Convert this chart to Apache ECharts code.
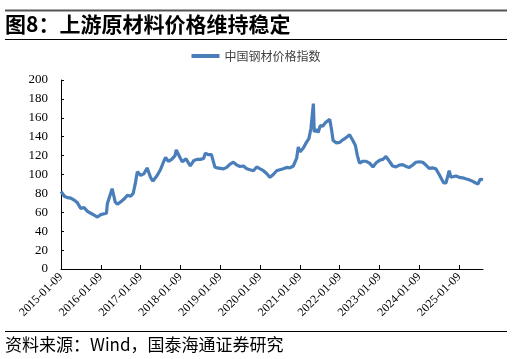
<!DOCTYPE html>
<html>
<head>
<meta charset="utf-8">
<script src="https://cdn.jsdelivr.net/npm/echarts@6/dist/echarts.min.js"></script>
<style>html,body{margin:0;padding:0;background:#fff}#c{width:512px;height:359px}</style>
</head>
<body>
<div id="c"></div>
<script>
const seriesName = '中国钢材价格指数';
const dates = [
'2015-01-09','2015-02-09','2015-03-09','2015-04-09','2015-05-09','2015-06-09','2015-07-09','2015-08-09','2015-09-09','2015-10-09','2015-11-09','2015-12-09',
'2016-01-09','2016-02-09','2016-03-01','2016-03-09','2016-03-25','2016-04-22','2016-05-20','2016-06-09','2016-07-09','2016-08-09','2016-09-09','2016-10-09','2016-11-01','2016-11-20','2016-12-09',
'2017-01-09','2017-02-09','2017-03-09','2017-04-09','2017-05-01','2017-06-09','2017-07-09','2017-08-09','2017-08-25','2017-09-20','2017-10-20','2017-11-20','2017-12-01',
'2018-01-09','2018-01-25','2018-03-01','2018-04-09','2018-05-09','2018-06-09','2018-07-09','2018-08-09','2018-08-25','2018-09-20','2018-10-20','2018-11-01','2018-11-20','2018-12-09',
'2019-01-09','2019-02-09','2019-03-09','2019-04-09','2019-05-09','2019-06-09','2019-07-09','2019-08-09','2019-09-09','2019-10-09','2019-11-09','2019-12-09',
'2020-01-09','2020-02-09','2020-03-09','2020-04-09','2020-05-09','2020-06-09','2020-07-09','2020-08-09','2020-09-09','2020-10-09','2020-11-09','2020-12-09','2020-12-25',
'2021-01-09','2021-02-09','2021-03-09','2021-04-01','2021-04-20','2021-05-12','2021-05-20','2021-06-09','2021-06-25','2021-07-15','2021-08-05','2021-09-01','2021-10-09','2021-10-25','2021-11-09','2021-12-09',
'2022-01-09','2022-02-09','2022-03-09','2022-04-09','2022-05-09','2022-06-01','2022-06-20','2022-07-09','2022-08-09','2022-09-09','2022-10-09','2022-11-09','2022-12-09',
'2023-01-09','2023-02-09','2023-03-09','2023-04-09','2023-05-09','2023-06-09','2023-07-09','2023-08-09','2023-09-09','2023-10-09','2023-11-09','2023-12-09',
'2024-01-09','2024-02-09','2024-03-09','2024-04-09','2024-05-09','2024-06-09','2024-07-09','2024-08-01','2024-08-20','2024-09-09','2024-09-25','2024-10-09','2024-10-25','2024-11-09','2024-12-09',
'2025-01-09','2025-02-09','2025-03-09','2025-04-09','2025-05-09','2025-06-09','2025-07-01','2025-07-20','2025-08-15'
];
const values = [
82,77,75.5,75,73,70,64,65,61,59,57,55,
57.5,58.5,59,69,71,85,71,68.5,71,74,78,77,80,90,103,
99,101,107,97,93,99,105,114,118,114,116,120,126,
117,113.5,116.5,109,114.5,116,116,117,122.5,121,121,120,108,107,
106.5,106,107.5,111,113,110,108.5,109,106,105,104,108,
106,104,101,97,100,104,105,106,107.5,107,109,117,129,
124,128,134,138,149,175,145,148,144.5,152,151,155,158.5,148,136,133.5,
134,137,139,142,136,131,120,112,114,114,112,108,112.5,
115,116,119,114,109,108,110,110.5,108.5,107.5,110,113,
113.5,113,110,106.5,107,106,100,95,91,91,93,104,97,98,98.5,
97,96.5,95.5,94.5,93,91,90,95,94.5
];
const yTicks = [0,20,40,60,80,100,120,140,160,180,200];
const xTickLabels = ['2015-01-09','2016-01-09','2017-01-09','2018-01-09','2019-01-09','2020-01-09','2021-01-09','2022-01-09','2023-01-09','2024-01-09','2025-01-09'];
const titleText = '图8：上游原材料价格维持稳定';
const sourceText = '资料来源：Wind，国泰海通证券研究';

const t0 = Date.parse(xTickLabels[0]);
const YEAR = 365.25 * 864e5;
const pts = dates.map((d, i) => [(Date.parse(d) - t0) / YEAR, values[i]]);

const chart = echarts.init(document.getElementById('c'));
chart.setOption({
  animation: false,
  backgroundColor: '#fff',
  grid: { left: 61, right: 29, top: 80, bottom: 90 },
  legend: {
    top: 45, left: 'center',
    icon: 'rect', itemWidth: 28, itemHeight: 4, itemGap: 4,
    textStyle: { fontSize: 12, color: '#404040', fontFamily: 'Noto Sans CJK SC' },
    data: [seriesName]
  },
  xAxis: {
    type: 'value', min: 0, max: 'dataMax', interval: 1,
    splitLine: { show: false },
    axisLine: { show: true, lineStyle: { color: '#000', width: 1 } },
    axisTick: { show: true, inside: true, length: 4, lineStyle: { color: '#000' } },
    axisLabel: {
      rotate: 45, fontSize: 12, color: '#000', fontFamily: 'Liberation Serif', margin: 6,
      showMaxLabel: false,
      formatter: v => xTickLabels[Math.round(v)] || ''
    }
  },
  yAxis: {
    type: 'value', min: 0, max: 200, interval: 20,
    splitLine: { show: false },
    axisLine: { show: true, lineStyle: { color: '#000', width: 1 } },
    axisTick: { show: true, inside: true, length: 3, lineStyle: { color: '#000' } },
    axisLabel: { fontSize: 13, color: '#000', fontFamily: 'Liberation Serif', margin: 13,
      formatter: v => yTicks.includes(v) ? String(v) : '' }
  },
  series: [{
    name: seriesName, type: 'line', data: pts, showSymbol: false, smooth: false,
    lineStyle: { color: '#4a7ebb', width: 3.2 }, itemStyle: { color: '#4a7ebb' }
  }],
  graphic: [
    { type: 'rect', shape: { x: 5, y: 9.5, width: 502, height: 2 }, style: { fill: '#555' } },
    { type: 'text', left: 5, top: 14, style: { text: titleText, font: 'bold 21px "Noto Sans CJK SC"', fill: '#000' } },
    { type: 'rect', shape: { x: 5, y: 39, width: 502, height: 1 }, style: { fill: '#000' } },
    { type: 'rect', shape: { x: 5, y: 331, width: 502, height: 1 }, style: { fill: '#000' } },
    { type: 'text', left: 5, top: 336, style: { text: sourceText, font: '17px "Noto Sans CJK SC"', fill: '#000' } }
  ]
});
</script>
</body>
</html>
